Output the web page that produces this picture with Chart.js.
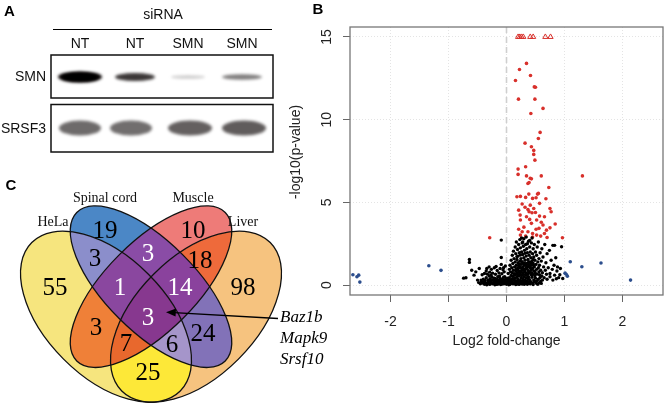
<!DOCTYPE html>
<html><head><meta charset="utf-8">
<script src="https://cdn.jsdelivr.net/npm/chart.js@4.4.1/dist/chart.umd.min.js"></script>
<style>
html,body{margin:0;padding:0;background:#fff;}
#wrap{position:relative;width:668px;height:405px;overflow:hidden;background:#fff;}
canvas{position:absolute;top:0;}
</style></head><body>
<div id="wrap">
<canvas id="left" width="340" height="405" style="left:0px"></canvas>
<canvas id="volcano" width="388" height="405" style="left:280px"></canvas>
</div>
<script>
// ---------------- DATA ----------------
// Panel A: western blot
const blotLanes = ['NT', 'NT', 'SMN', 'SMN'];
const blotRows = ['SMN', 'SRSF3'];
const smnIntensity = [1.0, 0.8, 0.2, 0.52];
const srsf3Intensity = [0.68, 0.66, 0.72, 0.74];

// Panel B: volcano plot
const xTickValues = [-2, -1, 0, 1, 2];
const yTickValues = [0, 5, 10, 15];
const cappedPoints = [[0.2,15],[0.23,15],[0.26,15],[0.29,15],[0.41,15],[0.46,15],[0.67,15],[0.76,15]];
const redPoints = [[0.345,13.4],[0.224,13.03],[0.414,12.67],[0.155,12.37],[0.48,11.98],[0.5,11.96],[0.207,11.24],[0.49,11.24],[0.63,10.68],[0.42,10.37],[0.58,9.23],[0.55,8.86],[0.32,8.58],[0.43,8.36],[0.47,8.14],[0.47,7.9],[0.49,7.55],[0.33,7.15],[0.2,7.01],[0.2,6.69],[0.345,6.6],[0.6,6.6],[1.31,6.6],[0.41,6.46],[0.43,6.42],[0.37,6.14],[0.73,5.9],[0.39,6.2],[0.55,5.54],[0.385,5.5],[0.18,5.34],[0.24,5.36],[0.33,5.3],[0.51,5.28],[0.68,5.22],[0.45,5.24],[0.535,5.5],[0.27,4.9],[0.41,4.83],[0.57,4.94],[0.32,4.7],[0.21,4.53],[0.37,4.57],[0.47,4.63],[0.75,4.63],[0.77,4.43],[0.39,4.43],[0.44,4.37],[0.5,4.39],[0.235,4.23],[0.345,4.13],[0.57,4.17],[0.655,4.13],[0.24,3.93],[0.4,3.97],[0.52,3.93],[0.43,3.73],[0.63,3.63],[0.84,3.69],[0.21,3.37],[0.27,3.22],[0.37,3.22],[0.51,3.37],[0.56,3.43],[0.69,3.32],[0.75,3.46],[0.45,3.12],[0.52,3.02],[0.59,2.96],[0.655,3.12],[0.24,3.02],[0.33,2.96],[-0.29,2.86],[0.965,2.86],[0.45,2.9],[0.7,2.88],[0.3,3.5],[0.6,3.8]];
const bluePoints = [[-2.65,0.62],[-2.58,0.5],[-2.55,0.6],[-2.53,0.18],[-1.34,1.17],[-1.13,0.89],[1.1,1.41],[1.3,1.11],[1.63,1.33],[2.14,0.3],[1.03,0.65],[1.05,0.54],[1.01,0.72]];
const blackPoints = [
[-0.45,0.08],[-0.43,0.22],[-0.41,0.12],[-0.40,0.35],[-0.38,0.05],[-0.37,0.28],[-0.36,0.15],[-0.35,0.45],[-0.33,0.09],[-0.32,0.31],[-0.31,0.2],[-0.30,0.55],[-0.29,0.04],[-0.28,0.38],[-0.27,0.14],[-0.26,0.26],[-0.25,0.49],[-0.24,0.07],[-0.23,0.33],[-0.22,0.18],[-0.21,0.42],[-0.20,0.02],[-0.19,0.27],[-0.18,0.11],[-0.17,0.36],[-0.16,0.21],[-0.15,0.5],[-0.14,0.06],[-0.13,0.3],[-0.12,0.16],[-0.11,0.41],[-0.10,0.03],[-0.09,0.24],[-0.08,0.12],[-0.07,0.34],[-0.06,0.19],[-0.05,0.47],[-0.04,0.08],[-0.03,0.29],[-0.02,0.15],[-0.01,0.38],[0.00,0.05],[0.01,0.22],[0.02,0.11],[0.03,0.33],[0.04,0.18],[0.05,0.44],[0.06,0.04],[0.07,0.27],[0.08,0.13],[0.09,0.37],[0.10,0.2],[0.11,0.52],[0.12,0.07],[0.13,0.3],[0.14,0.16],[0.15,0.41],[0.16,0.1],[0.17,0.25],[0.18,0.48],[0.19,0.06],[0.20,0.34],[0.21,0.19],[0.22,0.56],[0.23,0.12],[0.24,0.28],[0.25,0.43],[0.26,0.08],[0.27,0.22],[0.28,0.39],[0.29,0.15],[0.30,0.5],[0.31,0.05],[0.32,0.31],[0.33,0.18],[0.34,0.45],[0.35,0.1],[0.36,0.26],[0.37,0.4],[0.38,0.14],[0.40,0.33],[0.41,0.07],[0.42,0.21],[0.44,0.47],[0.45,0.12],[0.47,0.3],[0.48,0.18],[0.50,0.42],[0.52,0.09],[0.53,0.27],[0.55,0.36],[0.57,0.15],[0.59,0.24],
[-0.44,0.3],[-0.39,0.19],[-0.34,0.02],[-0.3,0.26],[-0.27,0.6],[-0.23,0.1],[-0.2,0.4],[-0.17,0.04],[-0.14,0.25],[-0.12,0.55],[-0.1,0.33],[-0.07,0.06],[-0.05,0.22],[-0.03,0.5],[-0.01,0.12],[0.02,0.42],[0.04,0.02],[0.06,0.3],[0.08,0.58],[0.1,0.09],[0.12,0.36],[0.14,0.6],[0.16,0.03],[0.18,0.2],[0.2,0.62],[0.22,0.04],[0.24,0.16],[0.26,0.58],[0.28,0.06],[0.3,0.28],[0.32,0.1],[0.34,0.6],[0.36,0.05],[0.38,0.5],[0.4,0.18],[0.43,0.62],[0.46,0.03],[0.49,0.56],[0.51,0.22],[0.54,0.05],[0.58,0.46],[0.6,0.1],[0.62,0.3],[0.61,0.55],
[-0.42,0.62],[-0.38,0.7],[-0.35,0.85],[-0.33,0.66],[-0.29,0.78],[-0.26,0.95],[-0.24,0.72],[-0.21,1.05],[-0.19,0.65],[-0.16,0.88],[-0.13,0.74],[-0.11,1.0],[-0.08,0.68],[-0.06,0.92],[-0.04,0.8],[-0.02,1.15],[-0.34,1.0],[-0.3,1.1],[-0.18,1.12],[-0.09,1.25],[-0.05,1.05],
[-0.09,2.72],[-0.09,1.67],[-0.64,1.55],[-0.64,1.37],[-0.6,0.9],[-0.74,0.42],[-0.70,0.44],[-0.53,0.8],[-0.47,1.0],[-0.56,0.6],[-0.5,0.3],[-0.48,0.15],
[0.03,0.7],[0.05,0.95],[0.06,1.2],[0.07,0.8],[0.08,1.5],[0.09,1.05],[0.1,0.75],[0.1,1.8],[0.11,1.3],[0.12,0.9],[0.12,2.05],[0.13,1.6],[0.14,1.1],[0.14,0.68],[0.15,2.3],[0.15,1.4],[0.16,0.85],[0.16,1.9],[0.17,1.2],[0.17,2.6],[0.18,0.72],[0.18,1.55],[0.19,1.0],[0.19,2.15],[0.2,1.35],[0.2,0.9],[0.2,1.75],[0.21,2.45],[0.21,1.15],[0.22,0.78],[0.22,1.95],[0.23,1.45],[0.23,2.75],[0.24,1.05],[0.24,0.66],[0.24,2.25],[0.25,1.6],[0.25,1.25],[0.26,0.88],[0.26,2.0],[0.27,1.4],[0.27,2.55],[0.28,1.1],[0.28,0.74],[0.28,1.85],[0.29,1.3],[0.29,2.35],[0.3,0.95],[0.3,1.65],[0.3,2.8],[0.31,1.2],[0.31,2.1],[0.32,0.8],[0.32,1.5],[0.33,1.0],[0.33,2.45],[0.34,1.75],[0.34,1.3],[0.35,0.7],[0.35,2.2],[0.36,1.1],[0.36,1.95],[0.37,0.88],[0.37,1.55],[0.38,2.65],[0.38,1.25],[0.39,1.8],[0.39,0.75],[0.4,1.4],[0.4,2.3],[0.41,1.05],[0.41,2.0],[0.42,0.9],[0.42,1.65],[0.43,1.2],[0.43,2.55],[0.44,0.72],[0.44,1.45],[0.45,1.9],[0.45,1.0],[0.46,2.2],[0.46,1.3],[0.47,0.85],[0.47,1.7],[0.48,2.45],[0.48,1.1],[0.49,1.5],[0.5,0.7],[0.5,2.0],[0.51,1.25],[0.52,1.8],[0.52,0.95],[0.53,2.3],[0.54,1.4],[0.55,1.05],[0.55,2.6],[0.56,0.8],[0.56,1.6],[0.57,1.2],[0.58,1.95],[0.59,0.9],[0.6,1.45],[0.61,2.2],[0.62,0.75],[0.63,1.7],[0.64,1.1],[0.66,2.45],[0.67,0.9],[0.68,1.35],[0.69,0.65],[0.7,1.9],[0.72,1.05],[0.74,2.1],[0.75,0.7],[0.77,1.5],[0.79,0.95],[0.8,2.4],[0.82,1.2],[0.83,0.6],[0.85,1.65],[0.87,0.85],[0.88,1.1],[0.9,0.45],[0.92,0.62],[0.95,2.32],[0.83,2.4],[0.93,1.0],[0.97,0.4],[0.65,0.45],[0.7,0.35],[0.75,0.5],[0.8,0.3],[0.86,0.38],
[0.13,0.62],[0.17,0.98],[0.19,0.62],[0.21,0.86],[0.23,1.08],[0.25,0.8],[0.27,0.98],[0.29,0.65],[0.31,0.86],[0.33,0.64],[0.35,1.02],[0.37,0.66],[0.39,1.12],[0.41,0.78],[0.43,0.98],[0.45,0.64],[0.47,1.18],[0.49,0.82],[0.53,0.66],[0.57,0.62],[0.22,1.25],[0.26,1.42],[0.3,1.32],[0.34,1.18],[0.38,1.38],[0.42,1.34],[0.46,1.55],[0.18,1.72],[0.24,1.82],[0.32,1.92],[0.36,2.5],[0.4,2.7],[0.28,2.6],[0.44,2.85],[0.34,2.9],[0.26,2.85]
];

// Panel C: Venn diagram (membership HeLa, Spinal cord, Muscle, Liver)
const vennSets = ['HeLa', 'Spinal cord', 'Muscle', 'Liver'];
const vennRegionKeys   = ['1000','0100','0010','0001','1100','0110','0011','1110','0111','1111','1010','0101','1011','1101','1001'];
const vennRegionCounts = [55, 19, 10, 98, 3, 3, 18, 1, 14, 3, 3, 24, 7, 6, 25];
const vennGenes = ['Baz1b', 'Mapk9', 'Srsf10'];

// ---------------- STYLE / LAYOUT ----------------
const regionColors = {
  '1000':'#f6e57e','0100':'#4b87c6','0010':'#ee7b78','0001':'#f6c37f',
  '1100':'#8b8ecb','0110':'#8a4ca6','0011':'#ee6a3b','1110':'#8a479f',
  '0111':'#8a429d','1111':'#87388f','1010':'#ef8038','0101':'#8272b8',
  '1011':'#e8682d','1101':'#a595ca','1001':'#fde838'
};
const whiteLabelKeys = ['0110','1110','0111','1111'];
const regionLabelPos = {
  '1000':[55,287],'0100':[105,230],'0010':[193,230],'0001':[243,287],
  '1100':[95,258],'0110':[148,253],'0011':[200,260],'1110':[120,287],
  '0111':[180,287],'1111':[148,317],'1010':[96,327],'0101':[203,333],
  '1011':[126,343],'1101':[172,344],'1001':[148,372]
};

const leftPlugin = {
  id: 'leftPanels',
  afterDraw(chart) {
    const ctx = chart.ctx, sx = chart.scales.x, sy = chart.scales.y;
    const X = u => sx.getPixelForValue(u), Y = v => sy.getPixelForValue(v);
    const DX = d => X(d) - X(0), DY = d => Y(d) - Y(0);
    const sans = '"Liberation Sans", Arial, sans-serif';
    const serif = '"Liberation Serif", "Times New Roman", serif';
    ctx.save();
    // ---- Panel A ----
    ctx.fillStyle = '#000';
    ctx.font = 'bold 15px ' + sans;
    ctx.textAlign = 'center'; ctx.textBaseline = 'middle';
    ctx.fillText('A', X(9.5), Y(12));
    ctx.font = '14px ' + sans;
    ctx.fillStyle = '#111';
    ctx.fillText('siRNA', X(163), Y(15));
    ctx.strokeStyle = '#000'; ctx.lineWidth = 1;
    ctx.beginPath(); ctx.moveTo(X(53), Y(29.5)); ctx.lineTo(X(272), Y(29.5)); ctx.stroke();
    const laneX = [80, 135, 188, 242];
    blotLanes.forEach((l, i) => ctx.fillText(l, X(laneX[i]), Y(44.5)));
    const rowBox = [[55, 98], [104.5, 152]];
    ctx.textAlign = 'right';
    blotRows.forEach((r, i) => ctx.fillText(r, X(46), Y((rowBox[i][0] + rowBox[i][1]) / 2 + 0.5)));
    // bands
    ctx.save();
    ctx.filter = 'blur(1.5px)';
    const smnW = [22, 20, 17, 20], smnH = [5.5, 4.0, 1.8, 2.8];
    smnIntensity.forEach((v, i) => {
      ctx.fillStyle = 'rgba(10,5,5,' + Math.min(1, v) + ')';
      ctx.beginPath();
      ctx.ellipse(X(laneX[i]), Y(77), DX(smnW[i]), DY(smnH[i]), 0, 0, Math.PI * 2);
      ctx.fill();
      if (v > 0.9) { ctx.fillStyle = '#000'; ctx.beginPath(); ctx.ellipse(X(laneX[i]), Y(77), DX(18), DY(4.3), 0, 0, Math.PI*2); ctx.fill(); }
    });
    const srW = [21, 21, 22, 22];
    srsf3Intensity.forEach((v, i) => {
      ctx.fillStyle = 'rgba(40,35,35,' + v + ')';
      ctx.beginPath();
      ctx.ellipse(X(laneX[i] - (i === 1 ? 4 : 0) + (i>1? 2:0)), Y(128), DX(srW[i]), DY(7.5), 0, 0, Math.PI * 2);
      ctx.fill();
    });
    ctx.restore();
    ctx.strokeStyle = '#111'; ctx.lineWidth = 1.5;
    rowBox.forEach(b => ctx.strokeRect(X(51), Y(b[0]), DX(222), DY(b[1] - b[0])));

    // ---- Panel C: Venn ----
    ctx.fillStyle = '#000';
    ctx.font = 'bold 15px ' + sans; ctx.textAlign = 'center';
    ctx.fillText('C', X(11), Y(186));
    const vu = u => 151 + (u - 0.5) * 300, vv = v => 206 + (0.839 - v) * 300;
    const ells = [
      { cx: 0.35, cy: 0.47, a: 0.35, b: 0.20, rot: Math.PI / 4 },
      { cx: 0.50, cy: 0.57, a: 0.35, b: 0.15, rot: Math.PI / 4 },
      { cx: 0.50, cy: 0.57, a: 0.35, b: 0.15, rot: -Math.PI / 4 },
      { cx: 0.65, cy: 0.47, a: 0.35, b: 0.20, rot: -Math.PI / 4 }
    ];
    const ellAdd = e => {
      const cx = X(vu(e.cx)), cy = Y(vv(e.cy)), ra = DX(e.a * 300), rb = DX(e.b * 300);
      ctx.moveTo(cx + ra * Math.cos(e.rot), cy + ra * Math.sin(e.rot));
      ctx.ellipse(cx, cy, ra, rb, e.rot, 0, Math.PI * 2);
    };
    const W = chart.width, H = chart.height;
    vennRegionKeys.forEach(k => {
      ctx.save();
      for (let i = 0; i < 4; i++) {
        ctx.beginPath();
        if (k[i] === '1') { ellAdd(ells[i]); ctx.clip(); }
        else { ctx.rect(0, 0, W, H); ellAdd(ells[i]); ctx.clip('evenodd'); }
      }
      ctx.fillStyle = regionColors[k];
      ctx.fillRect(0, 0, W, H);
      ctx.restore();
    });
    ctx.strokeStyle = '#111'; ctx.lineWidth = 1.3;
    ells.forEach(e => { ctx.beginPath(); ellAdd(e); ctx.stroke(); });
    // counts
    ctx.font = '25px ' + serif; ctx.textAlign = 'center'; ctx.textBaseline = 'middle';
    vennRegionKeys.forEach((k, i) => {
      ctx.fillStyle = whiteLabelKeys.includes(k) ? '#fff' : '#000';
      const p = regionLabelPos[k];
      ctx.fillText(String(vennRegionCounts[i]), X(p[0]), Y(p[1] + 1));
    });
    // set names
    ctx.fillStyle = '#111';
    ctx.font = '14px ' + serif;
    const setPos = [[53, 222], [105, 198], [193, 198], [243, 222]];
    vennSets.forEach((s, i) => ctx.fillText(s, X(setPos[i][0]), Y(setPos[i][1])));
    // arrow
    ctx.strokeStyle = '#000'; ctx.lineWidth = 1.4;
    ctx.beginPath(); ctx.moveTo(X(278), Y(318.5)); ctx.lineTo(X(174), Y(312.6)); ctx.stroke();
    ctx.fillStyle = '#000';
    ctx.beginPath(); ctx.moveTo(X(166), Y(312.2)); ctx.lineTo(X(176), Y(308.5)); ctx.lineTo(X(175.5), Y(316.5)); ctx.closePath(); ctx.fill();
    ctx.font = 'italic 17px ' + serif; ctx.textAlign = 'left';
    vennGenes.forEach((g, i) => ctx.fillText(g, X(280), Y(318 + i * 21)));
    ctx.restore();
  }
};

new Chart(document.getElementById('left'), {
  type: 'scatter',
  data: { datasets: [] },
  options: {
    responsive: false, animation: false, devicePixelRatio: 1,
    layout: { padding: 0 },
    plugins: { legend: { display: false }, tooltip: { enabled: false } },
    scales: {
      x: { type: 'linear', min: 0, max: 340, display: false },
      y: { type: 'linear', min: 0, max: 405, reverse: true, display: false }
    }
  },
  plugins: [leftPlugin]
});

// ---------------- Volcano ----------------
const toXY = arr => arr.map(p => ({ x: p[0], y: p[1] }));
const volcanoPlugin = {
  id: 'volcanoDeco',
  beforeDatasetsDraw(chart) {
    const ctx = chart.ctx, a = chart.chartArea, x0 = chart.scales.x.getPixelForValue(0);
    ctx.save();
    ctx.strokeStyle = '#cfcfcf'; ctx.lineWidth = 1.6; ctx.setLineDash([6, 4]);
    ctx.beginPath(); ctx.moveTo(x0, a.top); ctx.lineTo(x0, a.bottom); ctx.stroke();
    ctx.restore();
  },
  afterDraw(chart) {
    const ctx = chart.ctx, a = chart.chartArea, sy = chart.scales.y;
    const sans = '"Liberation Sans", Arial, sans-serif';
    ctx.save();
    ctx.strokeStyle = '#777'; ctx.lineWidth = 1.3;
    ctx.strokeRect(a.left, a.top, a.right - a.left, a.bottom - a.top);
    ctx.fillStyle = '#222'; ctx.font = '14px ' + sans;
    ctx.textAlign = 'center'; ctx.textBaseline = 'middle';
    yTickValues.forEach(v => {
      ctx.save(); ctx.translate(a.left - 23, sy.getPixelForValue(v)); ctx.rotate(-Math.PI / 2);
      ctx.fillText(String(v), 0, 0); ctx.restore();
    });
    ctx.save(); ctx.translate(16, 152); ctx.rotate(-Math.PI / 2);
    ctx.fillText('-log10(p-value)', 0, 0); ctx.restore();
    ctx.fillText('Log2 fold-change', chart.scales.x.getPixelForValue(0), 341);
    ctx.fillStyle = '#000'; ctx.font = 'bold 15px ' + sans;
    ctx.fillText('B', 38, 10);
    ctx.restore();
  }
};

new Chart(document.getElementById('volcano'), {
  type: 'scatter',
  data: {
    datasets: [
      { data: toXY(blackPoints), backgroundColor: '#000', borderWidth: 0, pointRadius: 1.7 },
      { data: toXY(redPoints), backgroundColor: '#d8302b', borderWidth: 0, pointRadius: 1.8 },
      { data: toXY(bluePoints), backgroundColor: '#2c4e8d', borderWidth: 0, pointRadius: 1.8 },
      { data: toXY(cappedPoints), pointStyle: 'triangle', backgroundColor: 'rgba(0,0,0,0)', borderColor: '#d8302b', borderWidth: 1, pointRadius: 3 }
    ]
  },
  options: {
    responsive: false, animation: false, devicePixelRatio: 1,
    layout: { padding: { top: 27, right: 5, left: 0, bottom: 0 } },
    plugins: { legend: { display: false }, tooltip: { enabled: false } },
    scales: {
      x: {
        type: 'linear', min: -2.7, max: 2.7,
        afterBuildTicks: s => { s.ticks = xTickValues.map(v => ({ value: v })); },
        afterFit: s => { s.height = 110; },
        grid: { color: '#e4e4e4', lineWidth: 1, tickLength: 7, tickColor: '#666', tickWidth: 1 },
        border: { display: false, dash: [1, 2] },
        ticks: { font: { family: '"Liberation Sans", Arial, sans-serif', size: 14 }, color: '#222', padding: 12, maxRotation: 0 }
      },
      y: {
        type: 'linear', min: -0.6, max: 15.6,
        afterBuildTicks: s => { s.ticks = yTickValues.map(v => ({ value: v })); },
        afterFit: s => { s.width = 70; },
        grid: { color: '#e4e4e4', lineWidth: 1, tickLength: 7, tickColor: '#666', tickWidth: 1 },
        border: { display: false, dash: [1, 2] },
        ticks: { display: false }
      }
    }
  },
  plugins: [volcanoPlugin]
});
</script>
</body></html>
